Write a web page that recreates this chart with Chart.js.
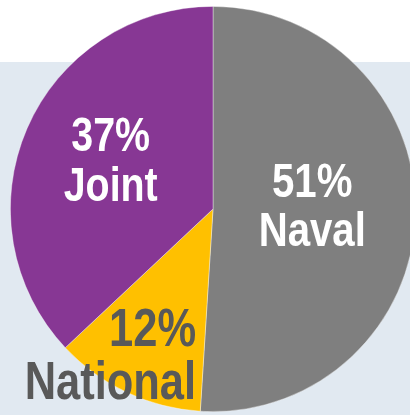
<!DOCTYPE html>
<html>
<head>
<meta charset="utf-8">
<script src="https://cdn.jsdelivr.net/npm/chart.js@4"></script>
<style>
  html, body { margin: 0; padding: 0; overflow: hidden; background: #fff; }
  #wrap { width: 420px; height: 420px; }
</style>
</head>
<body>
<div id="wrap"><canvas id="pie-share" width="420" height="420"></canvas></div>
<script>
const categories = ['Naval', 'National', 'Joint'];
const shares = [51, 12, 37];
const colors = ['#7F7F7F', '#FFC000', '#873794'];

// background: white strip on top, pale blue panel below
const panelBg = {
  id: 'panelBg',
  beforeDraw(chart) {
    const ctx = chart.ctx;
    ctx.save();
    ctx.fillStyle = '#ffffff';
    ctx.fillRect(0, 0, chart.width, chart.height);
    ctx.fillStyle = '#E1E9F1';
    ctx.fillRect(0, 62, chart.width, chart.height - 62);
    ctx.restore();
  }
};

// two-line labels (percent + name) inside each slice, narrow bold face
const sliceLabels = {
  id: 'sliceLabels',
  afterDatasetsDraw(chart, args, opts) {
    const ctx = chart.ctx;
    const meta = chart.getDatasetMeta(0);
    meta.data.forEach((arc, i) => {
      const o = opts.items[i];
      const mid = (arc.startAngle + arc.endAngle) / 2;
      const x = arc.x + Math.cos(mid) * arc.outerRadius * o.r + (o.dx || 0);
      const y = arc.y + Math.sin(mid) * arc.outerRadius * o.r + (o.dy || 0);
      ctx.save();
      ctx.translate(x, y);
      ctx.scale(opts.squeeze, 1);
      ctx.font = 'bold ' + o.size + 'px "Liberation Sans", Arial, sans-serif';
      ctx.fillStyle = o.color;
      ctx.textAlign = o.align || 'center';
      ctx.textBaseline = 'alphabetic';
      ctx.fillText(shares[i] + '%', 0, -o.lh / 2 + o.size * 0.36);
      ctx.fillText(categories[i], 0, o.lh / 2 + o.size * 0.36);
      ctx.restore();
    });
  }
};

new Chart(document.getElementById('pie-share'), {
  type: 'pie',
  data: {
    labels: categories,
    datasets: [{
      data: shares,
      backgroundColor: colors,
      borderColor: 'rgba(255,255,255,0.5)',
      borderWidth: 0.75
    }]
  },
  options: {
    responsive: false,
    animation: false,
    layout: { padding: { left: 10, top: 6, right: 4, bottom: 8 } },
    plugins: {
      legend: { display: false },
      tooltip: { enabled: false },
      sliceLabels: {
        squeeze: 0.82,
        items: [
          { r: 0.49, dy: -8, size: 49, lh: 49, color: '#ffffff' },
          { r: 0.787, dx: 51, size: 53, lh: 53, color: '#595959', align: 'right' },
          { r: 0.55, dy: -6, size: 48, lh: 50, color: '#ffffff' }
        ]
      }
    }
  },
  plugins: [panelBg, sliceLabels]
});
</script>
</body>
</html>
